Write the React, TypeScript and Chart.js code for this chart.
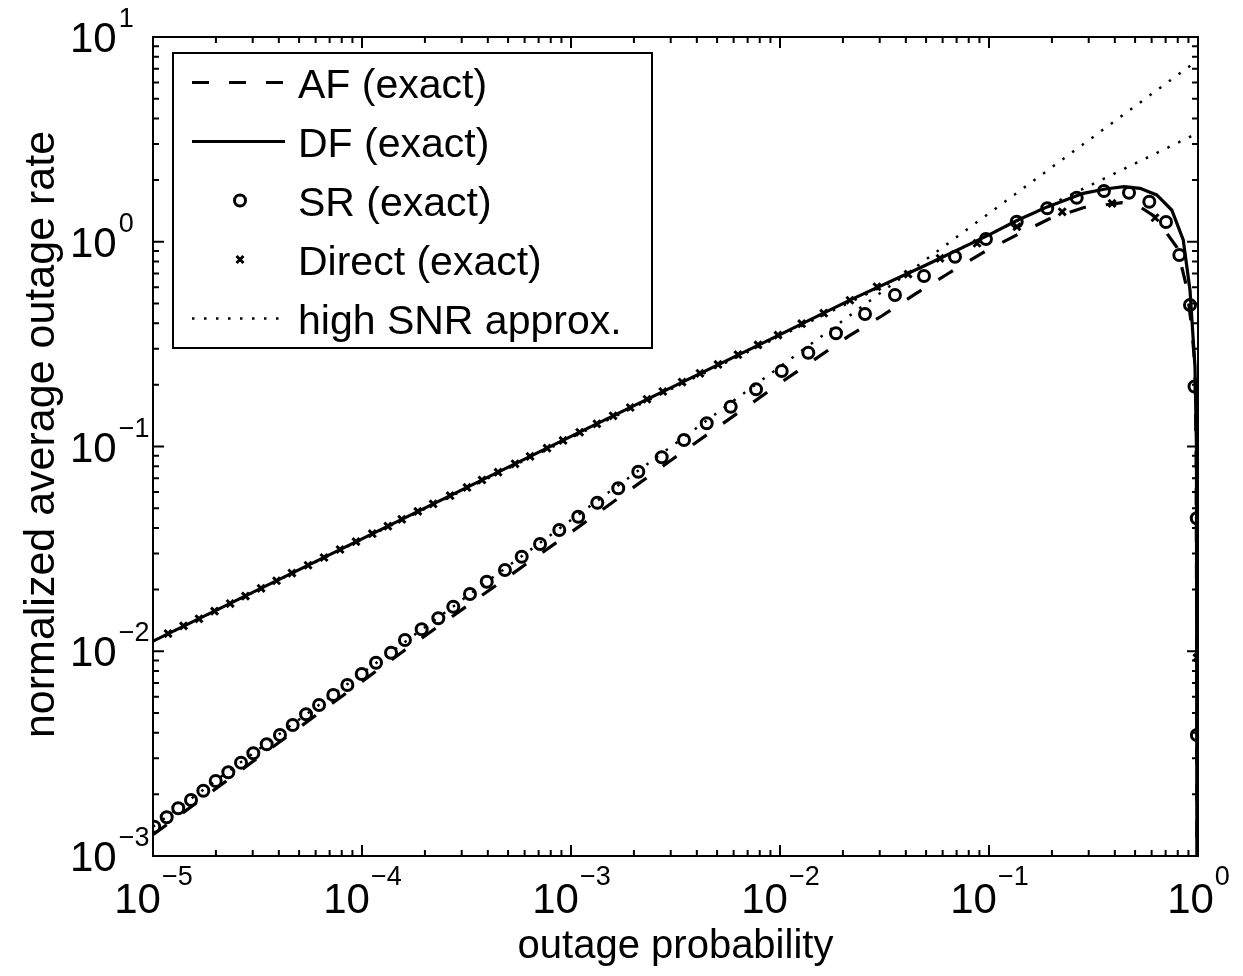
import React, { useEffect, useRef } from "react";
import { Chart, registerables } from "chart.js";

Chart.register(...registerables);

// ---------- data ----------
const afP = [1e-5, 1.605e-4, 1.083e-3, 3.47e-3, 1.02e-2, 0.0214, 0.0308, 0.0437, 0.0627, 0.0923, 0.1317, 0.1937, 0.2848, 0.4329, 0.52, 0.623, 0.7933, 0.8829, 0.9361, 0.9674, 0.98, 0.986, 0.99];
const afV = [1.27e-3, 1.014e-2, 0.0404, 0.0951, 0.2065, 0.347, 0.435, 0.55, 0.692, 0.878, 1.063, 1.291, 1.47, 1.551, 1.495, 1.325, 0.937, 0.598, 0.371, 0.2417, 0.09, 0.01, 0.0005];

const dfP = [1e-5, 1e-4, 1e-3, 1e-2, 0.0216, 0.05, 0.1, 0.136, 0.19, 0.2826, 0.36, 0.443, 0.5277, 0.6344, 0.7487, 0.85, 0.9156, 0.9674, 0.983, 0.9875, 0.989];
const dfV = [0.0112, 0.0354, 0.112, 0.352, 0.519, 0.77, 1.08, 1.27, 1.48, 1.724, 1.81, 1.858, 1.824, 1.692, 1.429, 1.02, 0.58, 0.245, 0.1, 0.01, 0.0005];

const srP = [1.014e-5, 1.163e-5, 1.321e-5, 1.52e-5, 1.741e-5, 1.995e-5, 2.293e-5, 2.637e-5, 3.02e-5, 3.5e-5, 4.05e-5, 4.66e-5, 5.4e-5, 6.23e-5, 7.29e-5, 8.51e-5, 9.97e-5, 1.167e-4, 1.377e-4, 1.605e-4, 1.93e-4, 2.318e-4, 2.734e-4, 3.286e-4, 3.952e-4, 4.83e-4, 5.81e-4, 7.11e-4, 8.79e-4, 1.083e-3, 1.336e-3, 1.683e-3, 2.099e-3, 2.716e-3, 3.473e-3, 4.46e-3, 5.81e-3, 7.68e-3, 1.019e-2, 1.366e-2, 1.853e-2, 2.551e-2, 3.549e-2, 4.887e-2, 6.876e-2, 9.67e-2, 0.1357, 0.19, 0.2628, 0.3549, 0.4677, 0.5848, 0.7029, 0.8138, 0.9156, 0.9623, 0.9866, 0.9875];
const srV = [1.39e-3, 1.545e-3, 1.71e-3, 1.877e-3, 2.084e-3, 2.323e-3, 2.564e-3, 2.857e-3, 3.175e-3, 3.515e-3, 3.9e-3, 4.365e-3, 4.92e-3, 5.46e-3, 6.11e-3, 6.84e-3, 7.74e-3, 8.79e-3, 9.84e-3, 1.135e-2, 1.28e-2, 1.449e-2, 1.65e-2, 1.904e-2, 2.186e-2, 2.493e-2, 2.895e-2, 3.34e-2, 3.91e-2, 4.54e-2, 5.31e-2, 6.25e-2, 7.53e-2, 8.86e-2, 0.1076, 0.1298, 0.1564, 0.1902, 0.2337, 0.2871, 0.3571, 0.4437, 0.5494, 0.6805, 0.8453, 1.031, 1.253, 1.457, 1.641, 1.77, 1.736, 1.569, 1.249, 0.8617, 0.4911, 0.1963, 0.0446, 3.9e-3];

const directP = [1.18e-5, 1.4e-5, 1.66e-5, 1.97e-5, 2.34e-5, 2.77e-5, 3.29e-5, 3.9e-5, 4.62e-5, 5.52e-5, 6.58e-5, 7.85e-5, 9.36e-5, 1.12e-4, 1.33e-4, 1.55e-4, 1.85e-4, 2.19e-4, 2.64e-4, 3.18e-4, 3.75e-4, 4.48e-4, 5.4e-4, 6.37e-4, 7.68e-4, 9.16e-4, 1.1e-3, 1.33e-3, 1.59e-3, 1.92e-3, 2.31e-3, 2.75e-3, 3.4e-3, 4.14e-3, 5.05e-3, 6.29e-3, 7.85e-3, 9.78e-3, 1.27e-2, 1.62e-2, 2.16e-2, 2.91e-2, 4.1e-2, 5.83e-2, 8.77e-2, 0.136, 0.224, 0.388, 0.623, 0.989];
const directV = [0.0122, 0.0133, 0.0144, 0.0157, 0.0171, 0.0186, 0.0203, 0.0221, 0.0241, 0.0263, 0.0287, 0.0314, 0.0343, 0.0375, 0.0408, 0.0441, 0.0482, 0.0524, 0.0575, 0.0631, 0.0686, 0.0749, 0.0823, 0.0894, 0.0981, 0.1071, 0.1174, 0.1291, 0.1412, 0.1551, 0.1701, 0.1856, 0.2064, 0.2278, 0.2516, 0.2808, 0.3136, 0.35, 0.398, 0.448, 0.518, 0.603, 0.695, 0.83, 0.983, 1.184, 1.4, 1.54, 1.31, 0.0093];

const approxAfP = [1e-5, 1];
const approxAfV = [1.39e-3, 7.72];
const approxDfP = [1e-5, 1];
const approxDfV = [0.0112, 3.4];

const xTickExps = [-5, -4, -3, -2, -1, 0];
const yTickExps = [-3, -2, -1, 0, 1];
const legendLabels = ["AF (exact)", "DF (exact)", "SR (exact)", "Direct (exact)", "high SNR approx."];
const xTitle = "outage probability";
const yTitle = "normalized average outage rate";

const FONT = '"Liberation Sans", Arial, Helvetica, sans-serif';

const pts = (xs: number[], ys: number[]) => xs.map((x, i) => ({ x, y: ys[i] }));

const expText = (e: number) => (e < 0 ? "\u2212" + Math.abs(e) : String(e));

const matlabPlugin = {
  id: "matlabDecor",
  afterDatasetsDraw(chart: any) {
    const ctx: CanvasRenderingContext2D = chart.ctx;
    const { left, right, top, bottom } = chart.chartArea;
    const xs = chart.scales.x;
    const ys = chart.scales.y;
    ctx.save();
    ctx.strokeStyle = "#000";
    ctx.fillStyle = "#000";
    ctx.lineWidth = 2;
    ctx.setLineDash([]);
    // ticks
    const majorLen = 11;
    const minorLen = 6;
    ctx.beginPath();
    for (let k = 0; k < xTickExps.length; k++) {
      const e = xTickExps[k];
      const px = xs.getPixelForValue(Math.pow(10, e));
      ctx.moveTo(px, bottom); ctx.lineTo(px, bottom - majorLen);
      ctx.moveTo(px, top); ctx.lineTo(px, top + majorLen);
      if (k < xTickExps.length - 1) {
        for (let m = 2; m <= 9; m++) {
          const mx = xs.getPixelForValue(m * Math.pow(10, e));
          ctx.moveTo(mx, bottom); ctx.lineTo(mx, bottom - minorLen);
          ctx.moveTo(mx, top); ctx.lineTo(mx, top + minorLen);
        }
      }
    }
    for (let k = 0; k < yTickExps.length; k++) {
      const e = yTickExps[k];
      const py = ys.getPixelForValue(Math.pow(10, e));
      ctx.moveTo(left, py); ctx.lineTo(left + majorLen, py);
      ctx.moveTo(right, py); ctx.lineTo(right - majorLen, py);
      if (k < yTickExps.length - 1) {
        for (let m = 2; m <= 9; m++) {
          const my = ys.getPixelForValue(m * Math.pow(10, e));
          ctx.moveTo(left, my); ctx.lineTo(left + minorLen, my);
          ctx.moveTo(right, my); ctx.lineTo(right - minorLen, my);
        }
      }
    }
    ctx.stroke();
    ctx.strokeRect(left, top, right - left, bottom - top);

    // tick labels
    const baseFont = "42px " + FONT;
    const expFont = "27px " + FONT;
    ctx.textBaseline = "alphabetic";
    ctx.textAlign = "left";
    for (const e of xTickExps) {
      const px = xs.getPixelForValue(Math.pow(10, e));
      ctx.font = baseFont;
      const w1 = ctx.measureText("10").width;
      ctx.font = expFont;
      const w2 = ctx.measureText(expText(e)).width;
      const start = px - (w1 + w2) / 2;
      ctx.font = baseFont;
      ctx.fillText("10", start, 913);
      ctx.font = expFont;
      ctx.fillText(expText(e), start + w1 + 1, 885);
    }
    for (const e of yTickExps) {
      const py = ys.getPixelForValue(Math.pow(10, e));
      ctx.font = baseFont;
      ctx.fillText("10", 70, py + 15);
      const w1 = ctx.measureText("10").width;
      ctx.font = expFont;
      ctx.fillText(expText(e), 70 + w1 + 2, py - 10);
    }

    // axis titles
    ctx.font = "40px " + FONT;
    ctx.textAlign = "center";
    ctx.fillText(xTitle, (left + right) / 2, 958);
    ctx.save();
    ctx.font = "43px " + FONT;
    ctx.translate(54, (top + bottom) / 2 - 12);
    ctx.rotate(-Math.PI / 2);
    ctx.fillText(yTitle, 0, 0);
    ctx.restore();

    // legend
    const lx0 = 173, ly0 = 53, lx1 = 652, ly1 = 348;
    ctx.fillStyle = "#fff";
    ctx.fillRect(lx0, ly0, lx1 - lx0, ly1 - ly0);
    ctx.strokeStyle = "#000";
    ctx.lineWidth = 2;
    ctx.strokeRect(lx0, ly0, lx1 - lx0, ly1 - ly0);
    ctx.fillStyle = "#000";
    ctx.textAlign = "left";
    ctx.font = "41px " + FONT;
    const rowH = (ly1 - ly0) / legendLabels.length;
    for (let i = 0; i < legendLabels.length; i++) {
      const cy = ly0 + rowH * (i + 0.5);
      ctx.fillText(legendLabels[i], 298, cy + 15);
      ctx.beginPath();
      if (i === 0 || i === 1 || i === 4) {
        ctx.lineWidth = i === 4 ? 2.5 : 3;
        ctx.setLineDash(i === 0 ? [17, 20] : i === 4 ? [2.5, 9.5] : []);
        ctx.moveTo(192, cy);
        ctx.lineTo(285, cy);
        ctx.stroke();
        ctx.setLineDash([]);
      } else if (i === 2) {
        ctx.lineWidth = 3;
        ctx.arc(240, cy, 5.5, 0, Math.PI * 2);
        ctx.stroke();
      } else if (i === 3) {
        ctx.lineWidth = 3;
        const r = 3.5;
        ctx.moveTo(240 - r, cy - r); ctx.lineTo(240 + r, cy + r);
        ctx.moveTo(240 + r, cy - r); ctx.lineTo(240 - r, cy + r);
        ctx.stroke();
      }
    }
    ctx.restore();
  },
};

export default function App() {
  const ref = useRef<HTMLCanvasElement | null>(null);
  useEffect(() => {
    if (!ref.current) return;
    const chart = new Chart(ref.current, {
      type: "scatter",
      data: {
        datasets: [
          { label: "approxAF", data: pts(approxAfP, approxAfV), showLine: true, borderColor: "#000", borderWidth: 2.5, borderDash: [2.5, 9.5], pointRadius: 0, fill: false },
          { label: "approxDF", data: pts(approxDfP, approxDfV), showLine: true, borderColor: "#000", borderWidth: 2.5, borderDash: [2.5, 9.5], pointRadius: 0, fill: false },
          { label: "AF", data: pts(afP, afV), showLine: true, borderColor: "#000", borderWidth: 3.2, borderDash: [17, 20], pointRadius: 0, fill: false, tension: 0 },
          { label: "DF", data: pts(dfP, dfV), showLine: true, borderColor: "#000", borderWidth: 3.2, pointRadius: 0, fill: false, tension: 0 },
          { label: "SR", data: pts(srP, srV), showLine: false, pointStyle: "circle", pointRadius: 5.5, pointBorderWidth: 3, pointBorderColor: "#000", pointBackgroundColor: "rgba(0,0,0,0)", borderColor: "#000" },
          { label: "Direct", data: pts(directP, directV), showLine: false, pointStyle: "crossRot", pointRadius: 5, pointBorderWidth: 3, pointBorderColor: "#000", borderColor: "#000" },
        ],
      },
      options: {
        responsive: false,
        animation: false,
        devicePixelRatio: 1,
        layout: { padding: { left: 0, right: 45, top: 37, bottom: 0 } },
        plugins: { legend: { display: false }, tooltip: { enabled: false }, title: { display: false } },
        events: [],
        scales: {
          x: {
            type: "logarithmic", min: 1e-5, max: 1,
            ticks: { display: false }, grid: { display: false }, border: { display: false },
            afterFit: (s: any) => { s.height = 120; },
          },
          y: {
            type: "logarithmic", min: 1e-3, max: 10,
            ticks: { display: false }, grid: { display: false }, border: { display: false },
            afterFit: (s: any) => { s.width = 153; },
          },
        },
      } as any,
      plugins: [matlabPlugin],
    });
    return () => chart.destroy();
  }, []);
  return (
    <div style={{ position: "absolute", left: 0, top: 0, width: 1243, height: 976, background: "#fff" }}>
      <canvas ref={ref} width={1243} height={976} style={{ width: 1243, height: 976, display: "block" }} />
    </div>
  );
}
